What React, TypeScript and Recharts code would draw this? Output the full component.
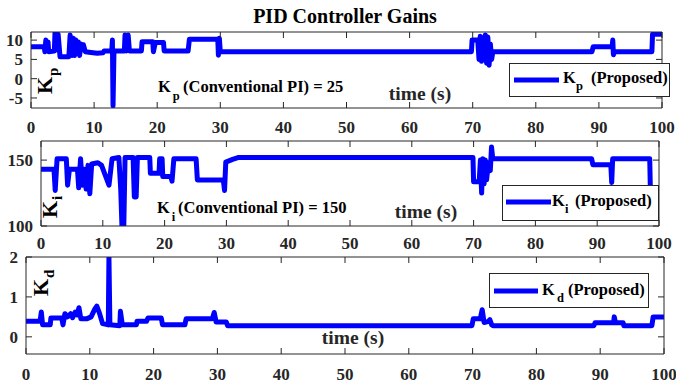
import React from 'react';
import { LineChart, Line, XAxis, YAxis, Legend, Customized } from 'recharts';

const FONT = '"Liberation Serif", "Times New Roman", Times, serif';
const INK = '#262626';
const BLUE = '#0000ff';
const W = 676;
const H = 389;

// Shared time axis (seconds)
const timeTicks = [0, 10, 20, 30, 40, 50, 60, 70, 80, 90, 100];

// Proportional gain Kp
const kpTime = [
  0, 2.1, 2.2, 2.35, 2.5, 2.7, 2.8, 3.7, 3.8, 4.1, 4.3, 4.6, 6.0, 6.2, 6.5, 6.7, 6.9, 7.1, 7.3, 7.5,
  7.7, 7.9, 8.1, 8.3, 8.6, 9.5, 10.5, 11.4, 11.6, 12.8, 12.9, 13.0, 13.15, 14.8, 14.9, 15.1, 15.4,
  15.6, 17.5, 17.6, 19.3, 19.4, 19.7, 21.0, 21.1, 24.9, 25.1, 29.6, 29.7, 29.85, 30.0, 69.8, 69.9,
  70.8, 71.0, 71.2, 71.4, 71.6, 71.8, 72.0, 72.2, 72.4, 72.6, 72.8, 73.0, 73.2, 88.9, 89.1, 92.1,
  92.2, 92.3, 92.5, 98.4, 98.5, 100,
];
const kpGain = [
  8.3, 8.3, 7.0, 10.0, 7.2, 9.5, 7.0, 7.2, 11.8, 7.5, 11.5, 5.7, 5.7, 11.3, 6.0, 10.5, 6.0, 10.0, 8.0, 9.5,
  6.0, 9.0, 7.5, 8.8, 7.0, 6.8, 6.6, 6.7, 7.2, 7.2, 10.0, -7.0, 7.2, 7.2, 11.3, 7.2, 11.3,
  7.2, 7.2, 9.6, 9.6, 7.0, 9.4, 9.4, 7.2, 7.2, 10.2, 10.2, 6.1, 10.5, 7.0, 7.0, 10.0,
  10.0, 5.0, 11.0, 4.5, 10.5, 5.0, 11.3, 4.0, 10.8, 3.5, 9.0, 5.0, 7.0, 7.0, 8.3, 8.3,
  10.0, 6.2, 7.0, 7.0, 11.5, 11.5,
];
const kpTicks = [-5, 0, 5, 10];

// Integral gain Ki
const kiTime = [
  0, 2.1, 2.3, 2.6, 4.1, 4.3, 4.6, 5.9, 6.1, 6.4, 6.7, 7.0, 7.3, 7.6, 7.9, 8.2, 9.2, 9.8, 11.0, 11.5,
  12.6, 12.9, 13.1, 13.4, 13.6, 14.9, 15.1, 15.4, 15.6, 17.6, 17.7, 19.1, 19.2, 19.6, 19.7, 21.0,
  21.2, 21.5, 25.1, 25.3, 29.5, 29.7, 29.9, 31.0, 32.0, 69.9, 70.0, 70.9, 71.1, 71.3, 71.5, 71.7,
  71.9, 72.1, 72.4, 72.7, 72.9, 73.1, 89.1, 89.3, 92.2, 92.35, 92.5, 98.5, 98.6, 100,
];
const kiGain = [
  143, 143, 127, 151, 151, 131, 143, 143, 129, 151, 131, 143, 128, 146, 124.5, 147, 148, 146, 131, 151,
  152, 128, 100, 100, 152, 152, 122, 122, 152, 152, 140, 140, 151, 151, 137.5, 137.5,
  134, 151, 151, 135, 135, 127, 148.5, 150.5, 152, 152, 133.5, 133.5, 150, 125, 151, 132,
  150, 135, 148, 142, 160, 151, 151, 146.5, 146.5, 133, 151, 151, 128, 128,
];
const kiTicks = [100, 150];

// Derivative gain Kd
const kdTime = [
  0, 2.2, 2.4, 2.6, 3.8, 3.9, 5.6, 5.8, 6.1, 6.5, 7.0, 7.3, 7.7, 8.0, 8.3, 8.6, 9.5, 10.2, 10.8, 11.1,
  11.5, 12.0, 12.9, 13.0, 13.15, 14.7, 14.8, 15.1, 17.3, 17.4, 18.9, 19.1, 21.2, 21.4, 24.9, 25.1,
  29.2, 29.5, 29.8, 31.4, 31.6, 69.9, 70.1, 71.2, 71.5, 71.8, 72.4, 72.7, 73.0, 73.2, 89.0, 89.2,
  92.1, 92.2, 92.4, 93.6, 93.7, 98.1, 98.3, 100,
];
const kdGain = [
  0.39, 0.39, 0.62, 0.3, 0.3, 0.47, 0.47, 0.3, 0.58, 0.5, 0.58, 0.48, 0.62, 0.55, 0.73, 0.45, 0.45, 0.5, 0.7, 0.77,
  0.6, 0.33, 0.3, 2.0, 0.3, 0.28, 0.64, 0.3, 0.3, 0.39, 0.39, 0.47, 0.47, 0.3, 0.3, 0.45,
  0.45, 0.61, 0.37, 0.37, 0.28, 0.28, 0.45, 0.45, 0.68, 0.36, 0.38, 0.43, 0.3, 0.28, 0.28, 0.35,
  0.35, 0.5, 0.35, 0.35, 0.28, 0.28, 0.5, 0.5,
];
const kdTicks = [0, 1, 2];

const toRows = (t: number[], v: number[]) => t.map((time, i) => ({ time, gain: v[i] }));

type Box = { left: number; right: number; top: number; bottom: number };
type LegendSpec = {
  left: number;
  top: number;
  width: number;
  height: number;
  lineX1: number;
  lineX2: number;
  lineY: number;
  kX: number;
  baseY: number;
  subX: number;
  restX: number;
  sub: string;
};

const tickFont = { fill: INK, fontSize: 17, fontWeight: 700, fontFamily: FONT };
const axisStroke = { stroke: INK, strokeWidth: 1 };
const noLabel = () => null;
// Each axis band is 1px thick so the box edges land on the plot borders
const BAND = 1;
const LINE_W = 5;

function LegendBox({ spec, color }: { spec: LegendSpec; color: string }) {
  return (
    <svg width={spec.width} height={spec.height} style={{ display: 'block', overflow: 'visible' }}>
      <rect x={0.5} y={0.5} width={spec.width - 1} height={spec.height - 1} fill="#ffffff" stroke={INK} strokeWidth={1} />
      <line x1={spec.lineX1} x2={spec.lineX2} y1={spec.lineY} y2={spec.lineY} stroke={color} strokeWidth={LINE_W} />
      <text x={spec.kX} y={spec.baseY} fontFamily={FONT} fontWeight={700} fontSize={16.5} fill="#000">
        K
        <tspan x={spec.subX} dy={7} fontSize={12.5}>{spec.sub}</tspan>
        <tspan x={spec.restX} dy={-7}>(Proposed)</tspan>
      </text>
    </svg>
  );
}

type PanelProps = {
  name: string;
  data: { time: number; gain: number }[];
  plot: Box;
  yDomain: [number, number];
  yTicks: number[];
  xTickMargin: number;
  legend: LegendSpec;
  overlay: () => React.ReactNode;
};

function Panel(p: PanelProps) {
  return (
    <div style={{ position: 'absolute', left: 0, top: 0 }}>
      <LineChart
        width={W}
        height={H}
        data={p.data}
        margin={{
          top: p.plot.top - BAND,
          left: p.plot.left - BAND,
          right: W - p.plot.right - BAND,
          bottom: H - p.plot.bottom - BAND,
        }}
      >
        <XAxis
          xAxisId="bottom"
          dataKey="time"
          type="number"
          domain={[0, 100]}
          ticks={timeTicks}
          interval={0}
          orientation="bottom"
          height={BAND}
          allowDataOverflow
          tickSize={-6}
          tickMargin={p.xTickMargin}
          axisLine={axisStroke}
          tickLine={axisStroke}
          tick={tickFont}
        />
        <XAxis
          xAxisId="top"
          dataKey="time"
          type="number"
          domain={[0, 100]}
          ticks={timeTicks}
          interval={0}
          orientation="top"
          height={BAND}
          allowDataOverflow
          tickSize={-6}
          axisLine={axisStroke}
          tickLine={axisStroke}
          tick={noLabel}
        />
        <YAxis
          yAxisId="left"
          type="number"
          domain={p.yDomain}
          ticks={p.yTicks}
          interval={0}
          orientation="left"
          width={BAND}
          allowDataOverflow
          tickSize={-6}
          tickMargin={14}
          axisLine={axisStroke}
          tickLine={axisStroke}
          tick={tickFont}
        />
        <YAxis
          yAxisId="right"
          type="number"
          domain={p.yDomain}
          ticks={p.yTicks}
          interval={0}
          orientation="right"
          width={BAND}
          allowDataOverflow
          tickSize={-6}
          axisLine={axisStroke}
          tickLine={axisStroke}
          tick={noLabel}
        />
        <Line
          xAxisId="bottom"
          yAxisId="left"
          name={p.name}
          dataKey="gain"
          type="linear"
          stroke={BLUE}
          strokeWidth={LINE_W}
          strokeLinejoin="round"
          strokeLinecap="round"
          dot={false}
          activeDot={false}
          isAnimationActive={false}
        />
        <Legend
          layout="horizontal"
          verticalAlign="middle"
          align="center"
          wrapperStyle={{ left: p.legend.left, top: p.legend.top, width: p.legend.width, height: p.legend.height }}
          content={(props: any) => (
            <LegendBox spec={p.legend} color={(props.payload && props.payload[0] && props.payload[0].color) || BLUE} />
          )}
        />
        <Customized component={p.overlay} />
      </LineChart>
    </div>
  );
}

const boldText = { fontFamily: FONT, fontWeight: 700 } as const;

function RotatedGain({ x, y, sub, dy }: { x: number; y: number; sub: string; dy: number }) {
  return (
    <text x={x} y={y} transform={`rotate(-90 ${x} ${y})`} {...boldText} fontSize={22} fill="#000">
      K
      <tspan dx={1} dy={dy} fontSize={15}>{sub}</tspan>
    </text>
  );
}

function Conventional({ x, y, sub, restX, value }: { x: number; y: number; sub: string; restX: number; value: string }) {
  return (
    <text x={x} y={y} {...boldText} fontSize={16.5} fill="#000">
      K
      <tspan dx={2} dy={8} fontSize={12.5}>{sub}</tspan>
      <tspan x={restX} dy={-8}>{`(Conventional PI) = ${value}`}</tspan>
    </text>
  );
}

const TimeLabel = ({ x, y }: { x: number; y: number }) => (
  <text x={x} y={y} textAnchor="middle" {...boldText} fontSize={19.5} fill={INK}>
    time (s)
  </text>
);

const kpOverlay = () => (
  <g>
    <text x={345} y={23} textAnchor="middle" {...boldText} fontSize={20} fill="#000">
      PID Controller Gains
    </text>
    <RotatedGain x={52} y={94} sub="p" dy={6} />
    <Conventional x={158} y={92} sub="p" restX={183} value="25" />
    <TimeLabel x={420} y={100} />
  </g>
);

const kiOverlay = () => (
  <g>
    <RotatedGain x={57} y={218} sub="i" dy={5} />
    <Conventional x={157} y={213} sub="i" restX={178} value="150" />
    <TimeLabel x={426} y={218} />
  </g>
);

const kdOverlay = () => (
  <g>
    <RotatedGain x={48} y={296} sub="d" dy={6} />
    <TimeLabel x={353} y={344} />
  </g>
);

export default function App() {
  return (
    <div style={{ position: 'absolute', left: 0, top: 0, width: W, height: H, background: '#ffffff' }}>
      <Panel
        name="Kp (Proposed)"
        data={toRows(kpTime, kpGain)}
        plot={{ left: 31, right: 662, top: 32, bottom: 108 }}
        yDomain={[-7.6, 12.1]}
        yTicks={kpTicks}
        xTickMargin={18.5}
        legend={{ left: 509, top: 63, width: 161, height: 34, lineX1: 5, lineX2: 50, lineY: 17, kX: 54, baseY: 20, subX: 67, restX: 82, sub: 'p' }}
        overlay={kpOverlay}
      />
      <Panel
        name="Ki (Proposed)"
        data={toRows(kiTime, kiGain)}
        plot={{ left: 41, right: 659, top: 141, bottom: 226 }}
        yDomain={[100, 164.5]}
        yTicks={kiTicks}
        xTickMargin={16.7}
        legend={{ left: 502, top: 185, width: 157, height: 36, lineX1: 4, lineX2: 49, lineY: 17, kX: 50, baseY: 21, subX: 63, restX: 73, sub: 'i' }}
        overlay={kiOverlay}
      />
      <Panel
        name="Kd (Proposed)"
        data={toRows(kdTime, kdGain)}
        plot={{ left: 26, right: 664, top: 257, bottom: 354 }}
        yDomain={[-0.43, 2]}
        yTicks={kdTicks}
        xTickMargin={20}
        legend={{ left: 489, top: 273, width: 160, height: 35, lineX1: 5, lineX2: 49, lineY: 18, kX: 53, baseY: 22, subX: 68, restX: 79, sub: 'd' }}
        overlay={kdOverlay}
      />
    </div>
  );
}
